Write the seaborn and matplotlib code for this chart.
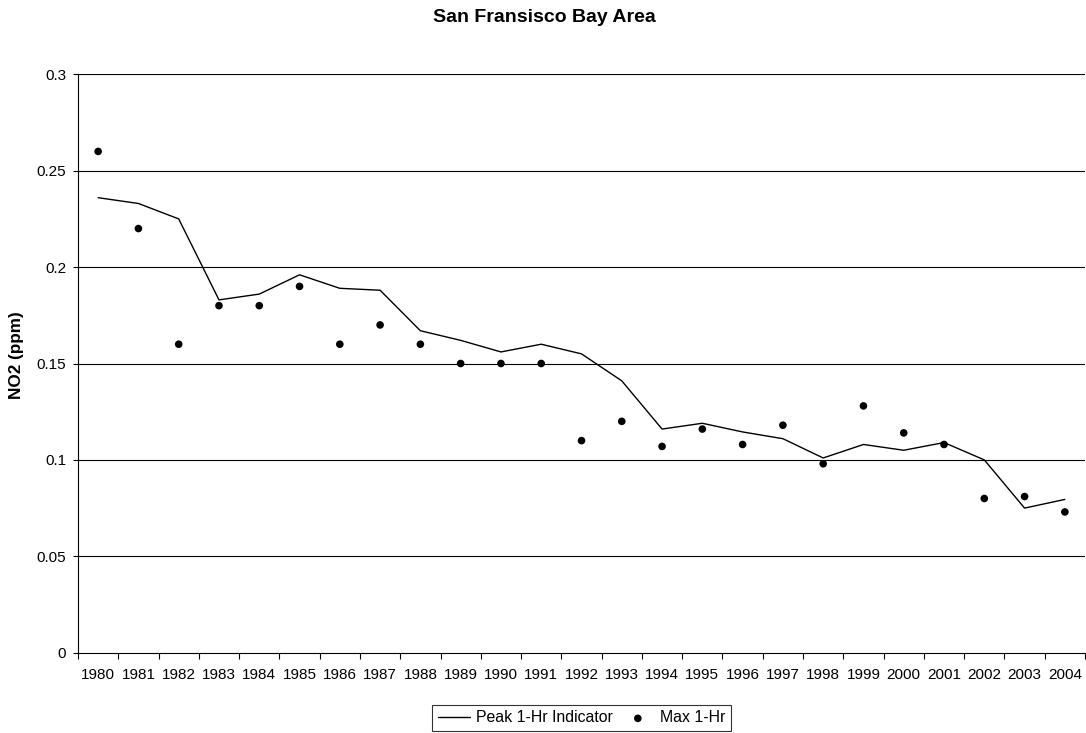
import numpy as np
import pandas as pd
import matplotlib
matplotlib.use("Agg")
import matplotlib.pyplot as plt
import seaborn as sns

years = [str(y) for y in range(1980, 2005)]
peak_indicator = [0.236, 0.233, 0.225, 0.183, 0.186, 0.196, 0.189, 0.188,
                  0.167, 0.162, 0.156, 0.160, 0.155, 0.141, 0.116, 0.119,
                  0.1145, 0.111, 0.101, 0.108, 0.105, 0.109, 0.100, 0.075,
                  0.0795]
max_1hr = [0.26, 0.22, 0.16, 0.18, 0.18, 0.19, 0.16, 0.17,
           0.16, 0.15, 0.15, 0.15, 0.11, 0.12, 0.107, 0.116,
           0.108, 0.118, 0.098, 0.128, 0.114, 0.108, 0.08, 0.081,
           0.073]
y_ticks = [0, 0.05, 0.1, 0.15, 0.2, 0.25, 0.3]
y_tick_labels = ["0", "0.05", "0.1", "0.15", "0.2", "0.25", "0.3"]

df = pd.DataFrame({"pos": np.arange(len(years)),
                   "year": years,
                   "peak": peak_indicator,
                   "max": max_1hr})

sns.set_style("white")
plt.rcParams["font.family"] = ["Liberation Sans", "DejaVu Sans"]
plt.rcParams.update({"text.color": "black", "axes.labelcolor": "black",
                     "xtick.color": "black", "ytick.color": "black"})

W, H = 1086, 733
fig = plt.figure(figsize=(W / 100, H / 100), dpi=100)
ax = fig.add_axes([78 / W, 1 - 652.7 / H, (1085 - 78) / W, (652.7 - 74.3) / H])

# horizontal gridlines at each major y value
for v in y_ticks[1:]:
    ax.axhline(v, color="black", lw=0.8, zorder=1)

sns.lineplot(data=df, x="pos", y="peak", ax=ax, color="black", lw=1.0,
             label="Peak 1-Hr Indicator", legend=False, zorder=3)
sns.scatterplot(data=df, x="pos", y="max", ax=ax, color="black", s=30,
                edgecolor="none", label="Max 1-Hr", legend=False, zorder=4)

ax.set_xlim(-0.5, len(years) - 0.5)
ax.set_ylim(0, 0.3)

ax.set_xticks(df["pos"])
ax.set_xticklabels(years, fontsize=11)
ax.set_xticks(np.arange(-0.5, len(years), 1.0), minor=True)
ax.tick_params(axis="x", which="major", length=0, pad=11)
ax.tick_params(axis="x", which="minor", length=4, width=0.8, color="black",
               direction="out", bottom=True)
ax.set_yticks(y_ticks)
ax.set_yticklabels(y_tick_labels, fontsize=11)
ax.tick_params(axis="y", length=3.5, width=0.8, color="black",
               direction="out", left=True, pad=5)

for side in ["top", "right"]:
    ax.spines[side].set_visible(False)
for side in ["left", "bottom"]:
    ax.spines[side].set_color("black")
    ax.spines[side].set_linewidth(0.8)

ax.set_xlabel("")
ax.set_ylabel("")
fig.text(17 / W, 1 - 355 / H, "NO2 (ppm)", rotation=90, ha="center",
         va="center", fontsize=12.3, fontweight="bold")

fig.text(544 / W, 1 - 17 / H, "San Fransisco Bay Area", ha="center",
         va="center", fontsize=14, fontweight="bold")

handles, labels = ax.get_legend_handles_labels()
leg = fig.legend(handles, labels, loc="center",
                 bbox_to_anchor=(581.5 / W, 1 - 718 / H), ncol=2,
                 frameon=True, fancybox=False, fontsize=11.4,
                 handlelength=2.05, columnspacing=0.55, handletextpad=0.38,
                 borderpad=0.35, borderaxespad=0)
leg.get_frame().set_edgecolor("black")
leg.get_frame().set_linewidth(0.8)

fig.savefig("out.png", dpi=100, facecolor="white")
